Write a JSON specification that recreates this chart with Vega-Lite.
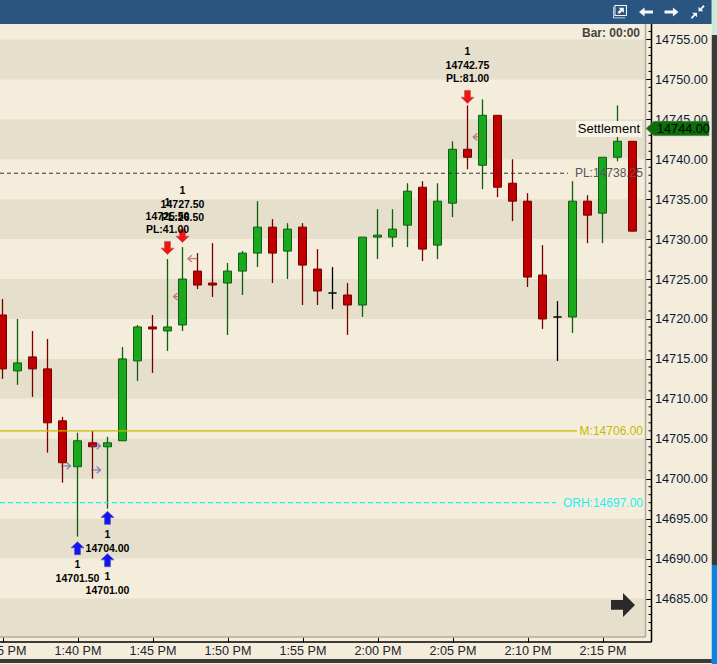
{
"$schema":"https://vega.github.io/schema/vega-lite/v6.json",
"width":717,"height":664,"padding":0,"autosize":{"type":"none"},
"background":"#f5eddc",
"view":{"stroke":null},
"data":{"values":[{}]},
"resolve":{"scale":{"color":"independent","fill":"independent","stroke":"independent","shape":"independent"}},
"datasets":{
"candles":[
{"t":"2024-01-01T13:35:00","o":14720.5,"h":14722.5,"l":14712.5,"c":14713.75,"dir":"down"},
{"t":"2024-01-01T13:36:00","o":14713.5,"h":14720,"l":14711.75,"c":14714.5,"dir":"up"},
{"t":"2024-01-01T13:37:00","o":14715.25,"h":14718.5,"l":14710.25,"c":14713.75,"dir":"down"},
{"t":"2024-01-01T13:38:00","o":14713.75,"h":14717.5,"l":14703.25,"c":14707,"dir":"down"},
{"t":"2024-01-01T13:39:00","o":14707.25,"h":14707.75,"l":14699.5,"c":14702,"dir":"down"},
{"t":"2024-01-01T13:40:00","o":14701.5,"h":14705.75,"l":14692.75,"c":14704.75,"dir":"up"},
{"t":"2024-01-01T13:41:00","o":14704.5,"h":14706,"l":14700,"c":14704,"dir":"down"},
{"t":"2024-01-01T13:42:00","o":14704,"h":14705.25,"l":14696.25,"c":14704.5,"dir":"up"},
{"t":"2024-01-01T13:43:00","o":14704.75,"h":14716.5,"l":14704.75,"c":14715,"dir":"up"},
{"t":"2024-01-01T13:44:00","o":14714.75,"h":14719.25,"l":14712.25,"c":14719,"dir":"up"},
{"t":"2024-01-01T13:45:00","o":14719,"h":14720.5,"l":14713.25,"c":14718.75,"dir":"down"},
{"t":"2024-01-01T13:46:00","o":14718.5,"h":14727.5,"l":14716,"c":14719,"dir":"up"},
{"t":"2024-01-01T13:47:00","o":14719.25,"h":14729,"l":14718.5,"c":14725,"dir":"up"},
{"t":"2024-01-01T13:48:00","o":14726,"h":14728.25,"l":14723.75,"c":14724.25,"dir":"down"},
{"t":"2024-01-01T13:49:00","o":14724.5,"h":14729.5,"l":14722.75,"c":14724.25,"dir":"down"},
{"t":"2024-01-01T13:50:00","o":14724.5,"h":14727,"l":14718,"c":14726,"dir":"up"},
{"t":"2024-01-01T13:51:00","o":14726,"h":14728.5,"l":14723,"c":14728.25,"dir":"up"},
{"t":"2024-01-01T13:52:00","o":14728.25,"h":14734.75,"l":14726.5,"c":14731.5,"dir":"up"},
{"t":"2024-01-01T13:53:00","o":14731.5,"h":14732.5,"l":14724.5,"c":14728.25,"dir":"down"},
{"t":"2024-01-01T13:54:00","o":14728.5,"h":14732,"l":14725,"c":14731.25,"dir":"up"},
{"t":"2024-01-01T13:55:00","o":14731.5,"h":14732,"l":14721.75,"c":14726.75,"dir":"down"},
{"t":"2024-01-01T13:56:00","o":14726.25,"h":14728.75,"l":14721.75,"c":14723.5,"dir":"down"},
{"t":"2024-01-01T13:57:00","o":14723.25,"h":14726.5,"l":14721.25,"c":14723.25,"dir":"doji"},
{"t":"2024-01-01T13:58:00","o":14723,"h":14724.5,"l":14718,"c":14721.75,"dir":"down"},
{"t":"2024-01-01T13:59:00","o":14721.75,"h":14730.25,"l":14720.25,"c":14730.25,"dir":"up"},
{"t":"2024-01-01T14:00:00","o":14730.25,"h":14733.75,"l":14727.5,"c":14730.5,"dir":"up"},
{"t":"2024-01-01T14:01:00","o":14730.25,"h":14733.75,"l":14729,"c":14731.25,"dir":"up"},
{"t":"2024-01-01T14:02:00","o":14731.75,"h":14737,"l":14729,"c":14736,"dir":"up"},
{"t":"2024-01-01T14:03:00","o":14736.5,"h":14737.25,"l":14727.25,"c":14728.75,"dir":"down"},
{"t":"2024-01-01T14:04:00","o":14729.25,"h":14737,"l":14727.5,"c":14734.75,"dir":"up"},
{"t":"2024-01-01T14:05:00","o":14734.5,"h":14742.25,"l":14732.75,"c":14741.25,"dir":"up"},
{"t":"2024-01-01T14:06:00","o":14741.25,"h":14746.75,"l":14738.75,"c":14740.25,"dir":"down"},
{"t":"2024-01-01T14:07:00","o":14739.25,"h":14747.5,"l":14736.25,"c":14745.5,"dir":"up"},
{"t":"2024-01-01T14:08:00","o":14745.5,"h":14745.5,"l":14735.25,"c":14736.5,"dir":"down"},
{"t":"2024-01-01T14:09:00","o":14737,"h":14740,"l":14732.25,"c":14734.75,"dir":"down"},
{"t":"2024-01-01T14:10:00","o":14734.75,"h":14735.75,"l":14724,"c":14725.25,"dir":"down"},
{"t":"2024-01-01T14:11:00","o":14725.5,"h":14729.25,"l":14718.75,"c":14720,"dir":"down"},
{"t":"2024-01-01T14:12:00","o":14720.25,"h":14722.25,"l":14714.75,"c":14720.25,"dir":"doji"},
{"t":"2024-01-01T14:13:00","o":14720.25,"h":14737.25,"l":14718.25,"c":14734.75,"dir":"up"},
{"t":"2024-01-01T14:14:00","o":14734.75,"h":14735.5,"l":14729.5,"c":14733,"dir":"down"},
{"t":"2024-01-01T14:15:00","o":14733.25,"h":14740.25,"l":14729.5,"c":14740.25,"dir":"up"},
{"t":"2024-01-01T14:16:00","o":14740.25,"h":14746.75,"l":14739.75,"c":14742.25,"dir":"up"},
{"t":"2024-01-01T14:17:00","o":14742.25,"h":14742.25,"l":14731,"c":14731,"dir":"down"}
]
},
"layer":[
{"data":{"values":[{"low":14750,"high":14755},{"low":14740,"high":14745},{"low":14730,"high":14735},{"low":14720,"high":14725},{"low":14710,"high":14715},{"low":14700,"high":14705},{"low":14690,"high":14695},{"low":14680.18,"high":14685}]},
"mark":{"type":"rect","color":"#e6dfcc"},
"encoding":{
"x":{"datum":{"year":2024,"month":1,"date":1,"hours":13,"minutes":34,"seconds":50},"type":"temporal",
"scale":{"padding":0,"domain":[{"year":2024,"month":1,"date":1,"hours":13,"minutes":34,"seconds":50},{"year":2024,"month":1,"date":1,"hours":14,"minutes":22,"seconds":38}]},
"axis":{"orient":"bottom","offset":-22,"title":null,"grid":false,"domain":false,"tickColor":"#000000","tickWidth":1,"tickSize":-5,"labelPadding":7,"labelFont":"Liberation Sans","labelFontSize":12.6,"labelColor":"#20242c","labelOverlap":false,"labelBound":false,"labelFlush":false,"format":"%-I:%M %p","formatType":"time",
"values":[{"year":2024,"month":1,"date":1,"hours":13,"minutes":35},{"year":2024,"month":1,"date":1,"hours":13,"minutes":40},{"year":2024,"month":1,"date":1,"hours":13,"minutes":45},{"year":2024,"month":1,"date":1,"hours":13,"minutes":50},{"year":2024,"month":1,"date":1,"hours":13,"minutes":55},{"year":2024,"month":1,"date":1,"hours":14,"minutes":0},{"year":2024,"month":1,"date":1,"hours":14,"minutes":5},{"year":2024,"month":1,"date":1,"hours":14,"minutes":10},{"year":2024,"month":1,"date":1,"hours":14,"minutes":15}]}},
"x2":{"datum":{"year":2024,"month":1,"date":1,"hours":14,"minutes":17,"seconds":52}},
"y":{"field":"low","type":"quantitative",
"scale":{"padding":0,"domain":[14676.8,14759.94],"nice":false,"zero":false},
"axis":{"orient":"right","offset":-65.5,"title":null,"grid":false,"domain":false,"tickColor":"#000000","tickWidth":1,"tickSize":-6.5,"labelPadding":9.5,"labelFont":"Liberation Sans","labelFontSize":12.7,"labelColor":"#0c1a3a","labelOverlap":false,"labelBound":false,"labelFlush":false,"format":".2f","values":[14685,14690,14695,14700,14705,14710,14715,14720,14725,14730,14735,14740,14745,14750,14755]}},
"y2":{"field":"high"}}},
{"data":{"values":[{"p":14681},{"p":14682},{"p":14683},{"p":14684},{"p":14686},{"p":14687},{"p":14688},{"p":14689},{"p":14691},{"p":14692},{"p":14693},{"p":14694},{"p":14696},{"p":14697},{"p":14698},{"p":14699},{"p":14701},{"p":14702},{"p":14703},{"p":14704},{"p":14706},{"p":14707},{"p":14708},{"p":14709},{"p":14711},{"p":14712},{"p":14713},{"p":14714},{"p":14716},{"p":14717},{"p":14718},{"p":14719},{"p":14721},{"p":14722},{"p":14723},{"p":14724},{"p":14726},{"p":14727},{"p":14728},{"p":14729},{"p":14731},{"p":14732},{"p":14733},{"p":14734},{"p":14736},{"p":14737},{"p":14738},{"p":14739},{"p":14741},{"p":14742},{"p":14743},{"p":14744},{"p":14746},{"p":14747},{"p":14748},{"p":14749},{"p":14751},{"p":14752},{"p":14753},{"p":14754},{"p":14756}]},
"mark":{"type":"rule","color":"#000000","strokeWidth":1},
"encoding":{
"x":{"datum":{"year":2024,"month":1,"date":1,"hours":14,"minutes":18,"seconds":4},"type":"temporal"},
"x2":{"datum":{"year":2024,"month":1,"date":1,"hours":14,"minutes":18,"seconds":16}},
"y":{"field":"p","type":"quantitative"}}},
{"mark":{"type":"rule","color":"#b0aba0","strokeWidth":1.5},"encoding":{
"x":{"datum":{"year":2024,"month":1,"date":1,"hours":14,"minutes":17,"seconds":52},"type":"temporal"},
"y":{"datum":14756.94,"type":"quantitative"},"y2":{"datum":14680.18}}},
{"mark":{"type":"rule","color":"#b0aba0","strokeWidth":1.5},"encoding":{
"x":{"datum":{"year":2024,"month":1,"date":1,"hours":13,"minutes":34,"seconds":50},"type":"temporal"},
"x2":{"datum":{"year":2024,"month":1,"date":1,"hours":14,"minutes":17,"seconds":52}},
"y":{"datum":14680.18,"type":"quantitative"}}},
{"mark":{"type":"rule","color":"#000000","strokeWidth":1.5},"encoding":{
"x":{"datum":{"year":2024,"month":1,"date":1,"hours":14,"minutes":18,"seconds":16},"type":"temporal"},
"y":{"datum":14756.94,"type":"quantitative"},"y2":{"datum":14679.55}}},
{"mark":{"type":"rule","color":"#000000","strokeWidth":1.5},"encoding":{
"x":{"datum":{"year":2024,"month":1,"date":1,"hours":13,"minutes":34,"seconds":50},"type":"temporal"},
"x2":{"datum":{"year":2024,"month":1,"date":1,"hours":14,"minutes":18,"seconds":16}},
"y":{"datum":14679.55,"type":"quantitative"}}},
{"data":{"name":"candles"},"mark":{"type":"rule","strokeWidth":1.3},"encoding":{
"x":{"field":"t","type":"temporal"},
"y":{"field":"l","type":"quantitative"},"y2":{"field":"h"},
"color":{"field":"dir","type":"nominal","legend":null,"scale":{"domain":["up","down","doji"],"range":["#0b5f0f","#780000","#000000"]}}}},
{"data":{"name":"candles"},"mark":{"type":"bar","size":8,"orient":"vertical","strokeWidth":1},"encoding":{
"x":{"field":"t","type":"temporal"},
"y":{"field":"o","type":"quantitative"},"y2":{"field":"c"},
"fill":{"field":"dir","type":"nominal","legend":null,"scale":{"domain":["up","down","doji"],"range":["#1aa81f","#c00000","#000000"]}},
"stroke":{"field":"dir","type":"nominal","legend":null,"scale":{"domain":["up","down","doji"],"range":["#0b5f0f","#780000","#000000"]}}}},
{"data":{"values":[{"p":14738.25}]},"mark":{"type":"rule","color":"#333333","strokeWidth":1,"strokeDash":[4,3]},"encoding":{
"x":{"datum":{"year":2024,"month":1,"date":1,"hours":13,"minutes":34,"seconds":50},"type":"temporal"},
"x2":{"datum":{"year":2024,"month":1,"date":1,"hours":14,"minutes":12,"seconds":42}},
"y":{"field":"p","type":"quantitative"}}},
{"data":{"values":[{"p":14706}]},"mark":{"type":"rule","color":"#c8b900","strokeWidth":1.2},"encoding":{
"x":{"datum":{"year":2024,"month":1,"date":1,"hours":13,"minutes":34,"seconds":50},"type":"temporal"},
"x2":{"datum":{"year":2024,"month":1,"date":1,"hours":14,"minutes":13,"seconds":18}},
"y":{"field":"p","type":"quantitative"}}},
{"data":{"values":[{"p":14697}]},"mark":{"type":"rule","color":"#1ff0f0","strokeWidth":1.2,"strokeDash":[5,3]},"encoding":{
"x":{"datum":{"year":2024,"month":1,"date":1,"hours":13,"minutes":34,"seconds":50},"type":"temporal"},
"x2":{"datum":{"year":2024,"month":1,"date":1,"hours":14,"minutes":11,"seconds":54}},
"y":{"field":"p","type":"quantitative"}}},
{"mark":{"type":"rect","color":"#f8f3e6"},"encoding":{
"x":{"datum":{"year":2024,"month":1,"date":1,"hours":14,"minutes":13,"seconds":14},"type":"temporal"},
"x2":{"datum":{"year":2024,"month":1,"date":1,"hours":14,"minutes":17,"seconds":38}},
"y":{"datum":14744.8,"type":"quantitative"},"y2":{"datum":14742.8}}},
{"data":{"values":[
{"t":"2024-01-01T13:39:13","p":14701.6,"way":"right"},
{"t":"2024-01-01T13:41:13","p":14704.1,"way":"right"},
{"t":"2024-01-01T13:41:13","p":14701.1,"way":"right"},
{"t":"2024-01-01T13:46:43","p":14722.8,"way":"left"},
{"t":"2024-01-01T13:47:41","p":14727.55,"way":"left"},
{"t":"2024-01-01T14:06:42","p":14742.8,"way":"left"}]},
"mark":{"type":"point","filled":false,"size":90,"strokeWidth":1.3},"encoding":{
"x":{"field":"t","type":"temporal"},
"y":{"field":"p","type":"quantitative"},
"shape":{"field":"way","type":"nominal","legend":null,"scale":{"domain":["right","left"],"range":["M-1,0 L1,0 M0.2,-0.7 L1,0 L0.2,0.7","M1,0 L-1,0 M-0.2,-0.7 L-1,0 L-0.2,0.7"]}},
"stroke":{"field":"way","type":"nominal","legend":null,"scale":{"domain":["right","left"],"range":["#5b5ba8","#a85050"]}}}},
{"data":{"values":[
{"t":"2024-01-01T13:40:00","p":14691.3,"way":"buy"},
{"t":"2024-01-01T13:42:00","p":14695.1,"way":"buy"},
{"t":"2024-01-01T13:42:00","p":14689.8,"way":"buy"},
{"t":"2024-01-01T13:46:00","p":14728.9,"way":"sell"},
{"t":"2024-01-01T13:47:00","p":14730.4,"way":"sell"},
{"t":"2024-01-01T14:06:00","p":14747.8,"way":"sell"}]},
"mark":{"type":"point","filled":true,"size":170,"opacity":1,"strokeWidth":0.8},"encoding":{
"x":{"field":"t","type":"temporal"},
"y":{"field":"p","type":"quantitative"},
"shape":{"field":"way","type":"nominal","legend":null,"scale":{"domain":["buy","sell"],"range":["M0,-1 L1,-0.05 L0.45,-0.05 L0.45,1 L-0.45,1 L-0.45,-0.05 L-1,-0.05 Z","M0,1 L1,0.05 L0.45,0.05 L0.45,-1 L-0.45,-1 L-0.45,0.05 L-1,0.05 Z"]}},
"fill":{"field":"way","type":"nominal","legend":null,"scale":{"domain":["buy","sell"],"range":["#1414f0","#f01414"]}},
"stroke":{"field":"way","type":"nominal","legend":null,"scale":{"domain":["buy","sell"],"range":["#5a5ac8","#c85a5a"]}}}},
{"data":{"values":[{"t":"2024-01-01T14:16:22","p":14684.2}]},
"mark":{"type":"point","filled":true,"size":576,"opacity":1,"color":"#2a2a2a","shape":"M-1,-0.4 L0,-0.4 L0,-1 L1,0 L0,1 L0,0.4 L-1,0.4 Z"},"encoding":{
"x":{"field":"t","type":"temporal"},
"y":{"field":"p","type":"quantitative"}}},
{"data":{"values":[
{"t":"2024-01-01T13:40:00","p":14689.2,"label":"1"},
{"t":"2024-01-01T13:40:00","p":14687.4,"label":"14701.50"},
{"t":"2024-01-01T13:42:00","p":14692.95,"label":"1"},
{"t":"2024-01-01T13:42:00","p":14691.2,"label":"14704.00"},
{"t":"2024-01-01T13:42:00","p":14687.7,"label":"1"},
{"t":"2024-01-01T13:42:00","p":14685.95,"label":"14701.00"},
{"t":"2024-01-01T13:46:00","p":14734.5,"label":"1"},
{"t":"2024-01-01T13:46:00","p":14732.75,"label":"14725.50"},
{"t":"2024-01-01T13:46:00","p":14731.15,"label":"PL:41.00"},
{"t":"2024-01-01T13:47:00","p":14736,"label":"1"},
{"t":"2024-01-01T13:47:00","p":14734.3,"label":"14727.50"},
{"t":"2024-01-01T13:47:00","p":14732.65,"label":"PL:26.50"},
{"t":"2024-01-01T14:06:00","p":14753.4,"label":"1"},
{"t":"2024-01-01T14:06:00","p":14751.7,"label":"14742.75"},
{"t":"2024-01-01T14:06:00","p":14750,"label":"PL:81.00"}]},
"mark":{"type":"text","font":"Liberation Sans","fontWeight":"bold","fontSize":10.5,"color":"#000000","align":"center","baseline":"middle"},"encoding":{
"x":{"field":"t","type":"temporal"},
"y":{"field":"p","type":"quantitative"},
"text":{"field":"label"}}},
{"data":{"values":[
{"t":"2024-01-01T14:17:30","p":14755.75,"label":"Bar: 00:00"}]},
"mark":{"type":"text","font":"Liberation Sans","fontWeight":"bold","fontSize":12,"color":"#444444","align":"right","baseline":"middle"},"encoding":{
"x":{"field":"t","type":"temporal"},
"y":{"field":"p","type":"quantitative"},
"text":{"field":"label"}}},
{"data":{"values":[
{"t":"2024-01-01T14:17:30","p":14743.75,"label":"Settlement"}]},
"mark":{"type":"text","font":"Liberation Sans","fontSize":13,"color":"#000000","align":"right","baseline":"middle"},"encoding":{
"x":{"field":"t","type":"temporal"},
"y":{"field":"p","type":"quantitative"},
"text":{"field":"label"}}},
{"data":{"values":[
{"t":"2024-01-01T14:17:42","p":14738.25,"label":"PL:14738.25","kind":"pl"},
{"t":"2024-01-01T14:17:42","p":14706,"label":"M:14706.00","kind":"m"},
{"t":"2024-01-01T14:17:42","p":14697,"label":"ORH:14697.00","kind":"orh"}]},
"mark":{"type":"text","font":"Liberation Sans","fontSize":12,"align":"right","baseline":"middle"},"encoding":{
"x":{"field":"t","type":"temporal"},
"y":{"field":"p","type":"quantitative"},
"text":{"field":"label"},
"color":{"field":"kind","type":"nominal","legend":null,"scale":{"domain":["pl","m","orh"],"range":["#555555","#c8b900","#1ff0f0"]}}}},
{"data":{"values":[{"t":"2024-01-01T14:20:00","p":14743.85}]},
"mark":{"type":"point","filled":true,"size":3969,"opacity":1,"color":"#0a6e0a","stroke":"#6a8a6a","strokeWidth":0.5,"shape":"M-1,0 L-0.75,-0.23 L1,-0.23 L1,0.23 L-0.75,0.23 Z"},"encoding":{
"x":{"field":"t","type":"temporal"},
"y":{"field":"p","type":"quantitative"}}},
{"data":{"values":[{"t":"2024-01-01T14:18:38","p":14743.85,"label":"14744.00"}]},
"mark":{"type":"text","font":"Liberation Sans","fontSize":12.7,"color":"#000000","align":"left","baseline":"middle"},"encoding":{
"x":{"field":"t","type":"temporal"},
"y":{"field":"p","type":"quantitative"},
"text":{"field":"label"}}},
{"mark":{"type":"rect","color":"#2a5580"},"encoding":{
"x":{"datum":{"year":2024,"month":1,"date":1,"hours":13,"minutes":34,"seconds":50},"type":"temporal"},
"x2":{"datum":{"year":2024,"month":1,"date":1,"hours":14,"minutes":22,"seconds":17}},
"y":{"datum":14759.94,"type":"quantitative"},"y2":{"datum":14756.94}}},
{"mark":{"type":"rect","color":"#c8eed8"},"encoding":{
"x":{"datum":{"year":2024,"month":1,"date":1,"hours":14,"minutes":22,"seconds":17},"type":"temporal"},
"x2":{"datum":{"year":2024,"month":1,"date":1,"hours":14,"minutes":22,"seconds":38}},
"y":{"datum":14759.94,"type":"quantitative"},"y2":{"datum":14755.56}}},
{"mark":{"type":"rect","color":"#3a3a3a"},"encoding":{
"x":{"datum":{"year":2024,"month":1,"date":1,"hours":14,"minutes":22,"seconds":17},"type":"temporal"},
"x2":{"datum":{"year":2024,"month":1,"date":1,"hours":14,"minutes":22,"seconds":38}},
"y":{"datum":14755.56,"type":"quantitative"},"y2":{"datum":14689.2}}},
{"mark":{"type":"rect","color":"#0a84e0"},"encoding":{
"x":{"datum":{"year":2024,"month":1,"date":1,"hours":14,"minutes":22,"seconds":17},"type":"temporal"},
"x2":{"datum":{"year":2024,"month":1,"date":1,"hours":14,"minutes":22,"seconds":38}},
"y":{"datum":14689.2,"type":"quantitative"},"y2":{"datum":14676.8}}},
{"mark":{"type":"rect","color":"#3a3a3a"},"encoding":{
"x":{"datum":{"year":2024,"month":1,"date":1,"hours":13,"minutes":34,"seconds":50},"type":"temporal"},
"x2":{"datum":{"year":2024,"month":1,"date":1,"hours":14,"minutes":22,"seconds":17}},
"y":{"datum":14677.43,"type":"quantitative"},"y2":{"datum":14676.94}}},
{"data":{"values":[
{"t":"2024-01-01T14:17:54","p":14758.44,"icon":"back"},
{"t":"2024-01-01T14:19:36","p":14758.44,"icon":"forward"},
{"t":"2024-01-01T14:21:21","p":14758.44,"icon":"shrink"},
{"t":"2024-01-01T14:16:10","p":14758.54,"icon":"popout"}]},
"mark":{"type":"point","filled":true,"size":196,"opacity":1,"color":"#f4f6f8"},"encoding":{
"x":{"field":"t","type":"temporal"},
"y":{"field":"p","type":"quantitative"},
"shape":{"field":"icon","type":"nominal","legend":null,"scale":{"domain":["back","forward","shrink","popout"],"range":[
"M-1,0 L-0.2,-0.65 L-0.2,-0.22 L1,-0.22 L1,0.22 L-0.2,0.22 L-0.2,0.65 Z",
"M1,0 L0.2,-0.65 L0.2,-0.22 L-1,-0.22 L-1,0.22 L0.2,0.22 L0.2,0.65 Z",
"M0.1,-0.1 L0.1,-0.75 L0.35,-0.5 L0.8,-1 L1,-0.8 L0.55,-0.35 L0.8,-0.1 Z M-0.1,0.1 L-0.1,0.75 L-0.35,0.5 L-0.8,1 L-1,0.8 L-0.55,0.35 L-0.8,0.1 Z",
"M-0.8,-0.9 L1,-0.9 L1,0.7 L-0.8,0.7 Z M-0.65,-0.75 L-0.65,0.55 L0.85,0.55 L0.85,-0.75 Z M-0.2,-0.5 L0.55,-0.5 L0.55,0.25 L0.3,0 L-0.1,0.4 L-0.35,0.15 L0.05,-0.25 Z M-1,-0.65 L-0.9,-0.65 L-0.9,0.9 L0.75,0.9 L0.75,1 L-1,1 Z"]}}}}
]
}
